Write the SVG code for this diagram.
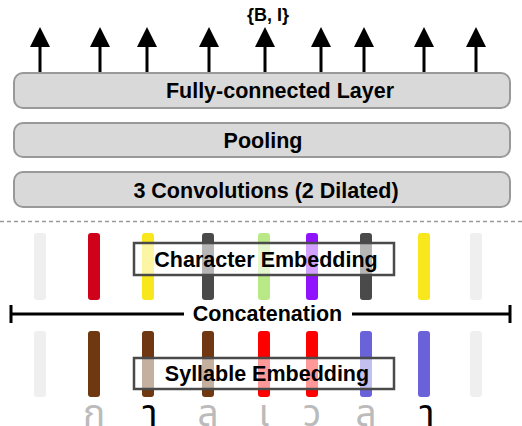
<svg xmlns="http://www.w3.org/2000/svg" width="522" height="426" viewBox="0 0 522 426">
<defs>
<style>
.layer{fill:#d9d9d9;stroke:#999;stroke-width:2}
.t{font-family:"Liberation Sans",Arial,sans-serif;font-weight:bold;font-size:21.5px;fill:#000;text-anchor:middle}
.emb{fill:#fff;fill-opacity:0.6;stroke:#4a4a4a;stroke-width:2.5}
.arr{stroke:#000;stroke-width:3;fill:none}
.th{font-family:"Noto Sans Thai","Noto Sans","DejaVu Sans",sans-serif;font-size:37px;text-anchor:middle}
</style>
</defs>
<text class="t" x="268" y="21" style="font-size:18px">{B, I}</text>
<g id="connectors">
<path class="arr" d="M40,72V46M100,72V46M147,72V46M209,72V46M265,72V46M321,72V46M364,72V46M424,72V46M476,72V46" />
<g fill="#000">
<path d="M40,27l-10,20h20z"/><path d="M100,27l-10,20h20z"/><path d="M147,27l-10,20h20z"/><path d="M209,27l-10,20h20z"/><path d="M265,27l-10,20h20z"/><path d="M321,27l-10,20h20z"/><path d="M364,27l-10,20h20z"/><path d="M424,27l-10,20h20z"/><path d="M476,27l-10,20h20z"/>
</g>
</g>
<g id="fc"><rect class="layer" x="14" y="73" width="496" height="35" rx="9"/><text class="t" x="280" y="97.5">Fully-connected Layer</text></g>
<g id="pooling"><rect class="layer" x="14" y="123" width="496" height="34" rx="9"/><text class="t" x="263" y="148">Pooling</text></g>
<g id="conv"><rect class="layer" x="14" y="172" width="496" height="35" rx="9"/><text class="t" x="266" y="197.5">3 Convolutions (2 Dilated)</text></g>
<line x1="0" y1="221.5" x2="522" y2="221.5" stroke="#999" stroke-width="1.5" stroke-dasharray="4,3"/>
<g id="char-bars">
<rect x="34" y="233" width="12" height="67" rx="3" fill="#efefef"/>
<rect x="88" y="233" width="12" height="67" rx="3" fill="#d0021b"/>
<rect x="142" y="233" width="12" height="67" rx="3" fill="#f8e71c"/>
<rect x="202" y="233" width="12" height="67" rx="3" fill="#4a4a4a"/>
<rect x="258" y="233" width="12" height="67" rx="3" fill="#b8e986"/>
<rect x="306" y="233" width="12" height="67" rx="3" fill="#9013fe"/>
<rect x="360" y="233" width="12" height="67" rx="3" fill="#4a4a4a"/>
<rect x="418" y="233" width="12" height="67" rx="3" fill="#f8e71c"/>
<rect x="470" y="233" width="12" height="67" rx="3" fill="#efefef"/>
</g>
<g id="char-emb"><rect class="emb" x="134" y="243" width="260" height="32"/><text class="t" x="266" y="267">Character Embedding</text></g>
<g id="concat">
<path d="M11,314H184M352,314H510M11,305V323M510,305V323" stroke="#000" stroke-width="3" fill="none"/>
<text class="t" x="267.5" y="320.5">Concatenation</text>
</g>
<g id="syl-bars">
<rect x="34" y="331" width="12" height="66" rx="3" fill="#efefef"/>
<rect x="88" y="331" width="12" height="66" rx="3" fill="#6f3810"/>
<rect x="142" y="331" width="12" height="66" rx="3" fill="#6f3810"/>
<rect x="202" y="331" width="12" height="66" rx="3" fill="#6f3810"/>
<rect x="258" y="331" width="12" height="66" rx="3" fill="#ff0000"/>
<rect x="306" y="331" width="12" height="66" rx="3" fill="#ff0000"/>
<rect x="360" y="331" width="12" height="66" rx="3" fill="#6a62d9"/>
<rect x="418" y="331" width="12" height="66" rx="3" fill="#6a62d9"/>
<rect x="470" y="331" width="12" height="66" rx="3" fill="#efefef"/>
</g>
<g id="syl-emb"><rect class="emb" x="134" y="358" width="260" height="31"/><text class="t" x="267" y="381">Syllable Embedding</text></g>
<g id="thai">
<text class="th" x="94" y="426" fill="#bbb">ก</text>
<text class="th" x="150" y="426" fill="#000">า</text>
<text class="th" x="208" y="426" fill="#bbb">ล</text>
<text class="th" x="264" y="426" fill="#bbb">เ</text>
<text class="th" x="312" y="426" fill="#bbb">ว</text>
<text class="th" x="366" y="426" fill="#bbb">ล</text>
<text class="th" x="427" y="426" fill="#000">า</text>
</g>
</svg>
